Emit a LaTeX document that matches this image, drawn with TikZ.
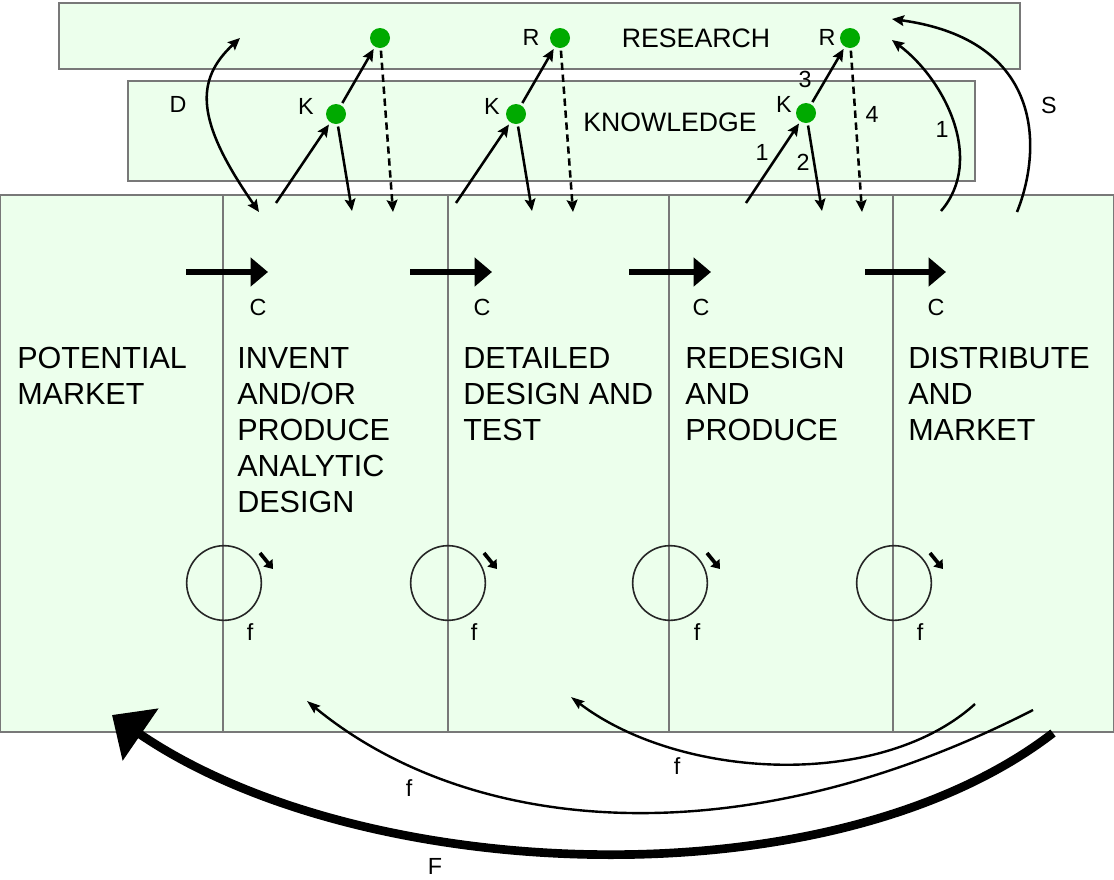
\documentclass[tikz,border=0pt]{standalone}
\usepackage{fontspec}
\setmainfont{Liberation Sans}
\usetikzlibrary{arrows.meta}
\definecolor{boxfill}{RGB}{236,255,236}
\definecolor{boxline}{RGB}{120,120,120}
\definecolor{dotgreen}{RGB}{0,170,0}
\begin{document}
\begin{tikzpicture}[x=0.75pt,y=-0.75pt,
  panel/.style={draw=boxline, fill=boxfill, line width=1pt},
  divider/.style={draw=boxline, line width=0.8pt},
  dot/.style={circle, fill=dotgreen, minimum size=15pt, inner sep=0pt, outer sep=2pt},
  lab/.style={font=\fontsize{17.5}{20}\selectfont, inner sep=0pt},
  title/.style={font=\fontsize{20}{24}\selectfont, inner sep=0pt},
  stage/.style={font=\fontsize{22.9}{27}\selectfont, align=left, anchor=north west, inner sep=0pt},
  thinarrow/.style={line width=1.9pt, -{Stealth[length=9pt,width=8pt,inset=1.5pt]}},
  dasharrow/.style={thinarrow, dash pattern=on 5.5pt off 3.5pt},
  bothwayarrow/.style={line width=1.9pt, {Stealth[length=9pt,width=8pt,inset=1.5pt]}-{Stealth[length=9pt,width=8pt,inset=1.5pt]}},
  carrow/.style={line width=5pt, -{Triangle[length=13pt,width=21pt]}},
  looparrow/.style={line width=2.8pt, -{Triangle[length=6pt,width=8.5pt]}},
  loopcircle/.style={circle, draw=black!85, line width=1.2pt, minimum size=56pt, inner sep=0pt},
  farrow/.style={line width=1.8pt, -{Stealth[length=10pt,width=7pt,inset=1.5pt]}},
  Farrow/.style={line width=6.5pt, -{Triangle[length=26pt,width=46pt]}}
]
\useasboundingbox (0,0) rectangle (1114,879);

% panels
\draw[panel] (59,3) rectangle (1020,69);
\draw[panel] (128,81) rectangle (975,181);
\draw[panel] (0,195) rectangle (1114,732);
\foreach \xx in {223,448,669,893} \draw[divider] (\xx,195) -- (\xx,732);

% titles
\node[title] (research) at (696,38) {RESEARCH};
\node[title] (knowledge) at (670,122) {KNOWLEDGE};

% stage texts
\node[stage] (pm)  at (17,347)  {POTENTIAL\\MARKET};
\node[stage] (inv) at (237,347) {INVENT\\AND/OR\\PRODUCE\\ANALYTIC\\DESIGN};
\node[stage] (det) at (463,347) {DETAILED\\DESIGN AND\\TEST};
\node[stage] (red) at (685,347) {REDESIGN\\AND\\PRODUCE};
\node[stage] (dis) at (908,347) {DISTRIBUTE\\AND\\MARKET};

% dots
\node[dot] (R1) at (380,38) {};
\node[dot] (K1) at (336,114) {};
\node[dot] (R2) at (560,38) {};
\node[dot] (K2) at (516,114) {};
\node[dot] (R3) at (850,38) {};
\node[dot] (K3) at (806,113) {};

% dot labels
\node[lab] (lK1) at (306,106) {K};
\node[lab] (lK2) at (492,106) {K};
\node[lab] (lR2) at (531,37) {R};
\node[lab] (lK3) at (784,104) {K};
\node[lab] (lR3) at (827,37) {R};
\node[lab] (n3) at (805,79) {3};
\node[lab] (n1a) at (762,152) {1};
\node[lab] (n2) at (803,162) {2};
\node[lab] (n4) at (872,114) {4};
\node[lab] (n1b) at (942,129) {1};
\node[lab] (lS) at (1049,105) {S};
\node[lab] (lD) at (178,104) {D};

% arrow end points in main box
\coordinate (a1) at (276,203); \coordinate (b1) at (352,211); \coordinate (c1) at (393,212);
\coordinate (a2) at (456,203); \coordinate (b2) at (532,211); \coordinate (c2) at (573,212);
\coordinate (a3) at (746,203); \coordinate (b3) at (822,211); \coordinate (c3) at (862,212);

\draw[thinarrow] (a1) -- (K1);
\draw[thinarrow] (K1) -- (b1);
\draw[thinarrow] (K1) -- (R1);
\draw[dasharrow] (R1) -- (c1);

\draw[thinarrow] (a2) -- (K2);
\draw[thinarrow] (K2) -- (b2);
\draw[thinarrow] (K2) -- (R2);
\draw[dasharrow] (R2) -- (c2);

\draw[thinarrow] (a3) -- (K3);
\draw[thinarrow] (K3) -- (b3);
\draw[thinarrow] (K3) -- (R3);
\draw[dasharrow] (R3) -- (c3);

% D arrow
\coordinate (Dtop) at (240,38);
\coordinate (Dbot) at (259,212);
\draw[bothwayarrow] (Dtop) .. controls (195,80) and (195,120) .. (Dbot);

% 1 and S arrows
\coordinate (oneS) at (941,211);
\coordinate (oneT) at (892,40);
\draw[thinarrow] (oneS) .. controls (985,160) and (945,80) .. (oneT);
\coordinate (sS) at (1017,212);
\coordinate (sT) at (892,19);
\draw[thinarrow] (sS) .. controls (1042,150) and (1045,40) .. (sT);

% C arrows
\foreach \i/\xa/\xb in {1/186/268, 2/410/492, 3/629/711, 4/865/946} {
  \coordinate (ca\i) at (\xa,272);
  \coordinate (cb\i) at (\xb,272);
  \draw[carrow] (ca\i) -- (cb\i);
}
\node[lab] (C1) at (258,307) {C};
\node[lab] (C2) at (482,307) {C};
\node[lab] (C3) at (701,307) {C};
\node[lab] (C4) at (936,307) {C};

% loops
\node[loopcircle] (L1) at (224,583) {};
\node[loopcircle] (L2) at (448,583) {};
\node[loopcircle] (L3) at (670,583) {};
\node[loopcircle] (L4) at (894,583) {};
\foreach \i/\xx in {1/260,2/484,3/707,4/930} {
  \coordinate (la\i) at (\xx,553);
  \coordinate (lb\i) at (\xx+13,569);
  \draw[looparrow] (la\i) -- (lb\i);
}
\node[lab] (f1) at (250,632) {f};
\node[lab] (f2) at (474,632) {f};
\node[lab] (f3) at (697,632) {f};
\node[lab] (f4) at (920,632) {f};

% bottom feedback arrows
\coordinate (sfS) at (975,704);
\coordinate (sfT) at (571,697);
\draw[farrow] (sfS) .. controls (880,790) and (680,780) .. (sfT);
\node[lab] (fsmall) at (677,766) {f};

\coordinate (mfS) at (1033,710);
\coordinate (mfT) at (307,701);
\draw[farrow] (mfS) .. controls (740,860) and (470,835) .. (mfT);
\node[lab] (fmid) at (409,788) {f};

\coordinate (FS) at (1053,733);
\coordinate (FT) at (112,715);
\draw[Farrow] (FS) .. controls (830,905) and (360,885) .. (FT);
\node[lab] (Flab) at (435,866) {F};
\end{tikzpicture}
\end{document}
